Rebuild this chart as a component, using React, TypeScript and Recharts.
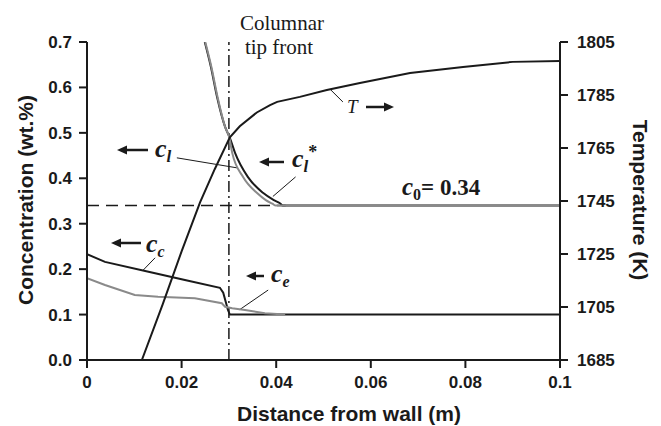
import { ComposedChart, Line, XAxis, YAxis, ReferenceLine } from "recharts";

const xTicks = [0, 0.02, 0.04, 0.06, 0.08, 0.1];
const xTickLabels = ["0", "0.02", "0.04", "0.06", "0.08", "0.1"];
const concTicks = [0, 0.1, 0.2, 0.3, 0.4, 0.5, 0.6, 0.7];
const tempTicks = [1685, 1705, 1725, 1745, 1765, 1785, 1805];
const c0 = 0.34;
const tipFront = 0.03;

// c_l* (dark) liquid concentration at the tip
const clStarX = [0.0249, 0.0262, 0.0275, 0.0292, 0.0302, 0.0313, 0.034, 0.0372, 0.0395, 0.0408, 0.0414, 0.1];
const clStarC = [0.7, 0.645, 0.579, 0.513, 0.489, 0.456, 0.403, 0.368, 0.352, 0.345, 0.34, 0.34];
// c_l (gray)
const clX = [0.025, 0.0263, 0.0276, 0.0292, 0.0301, 0.0307, 0.033, 0.0359, 0.0378, 0.0392, 0.0399, 0.1];
const clC = [0.7, 0.645, 0.579, 0.513, 0.489, 0.456, 0.403, 0.368, 0.352, 0.344, 0.34, 0.34];
// c_c (dark)
const ccX = [0, 0.0038, 0.0123, 0.0207, 0.0281, 0.0288, 0.0298, 0.0302, 0.1];
const ccC = [0.233, 0.216, 0.196, 0.176, 0.159, 0.148, 0.11, 0.1, 0.1];
// c_e (gray)
const ceX = [0, 0.0038, 0.0101, 0.015, 0.0228, 0.0285, 0.0292, 0.0307, 0.0334, 0.0376, 0.0419];
const ceC = [0.18, 0.165, 0.143, 0.139, 0.136, 0.125, 0.117, 0.114, 0.11, 0.103, 0.1];
// temperature
const tX = [0.0116, 0.016, 0.02, 0.0239, 0.027, 0.0302, 0.0323, 0.0359, 0.0387, 0.0402, 0.045, 0.0507, 0.0577, 0.0683, 0.0795, 0.09, 0.1];
const tK = [1685, 1706, 1726, 1744.5, 1757, 1769, 1773.2, 1778.4, 1781.2, 1782.4, 1784.3, 1786.9, 1789.5, 1793.3, 1795.6, 1797.5, 1797.8];

const zip = (xs: number[], ys: number[]) => xs.map((x, i) => ({ x, v: ys[i] }));

const dark = "#1a1a1a";
const gray = "#8a8a8a";
const sans = "'Liberation Sans', Arial, sans-serif";
const serif = "'Liberation Serif', 'Times New Roman', serif";

const tickStyle = { fill: "#1a1a1a", fontSize: 17, fontWeight: 700, fontFamily: sans };

function LeftArrow({ x1, x2, y }: { x1: number; x2: number; y: number }) {
  return (
    <g>
      <line x1={x1} y1={y} x2={x2 + 8} y2={y} stroke={dark} strokeWidth={2.5} />
      <path d={`M${x2},${y} L${x2 + 10},${y - 4.5} L${x2 + 10},${y + 4.5} Z`} fill={dark} />
    </g>
  );
}

function RightArrow({ x1, x2, y }: { x1: number; x2: number; y: number }) {
  return (
    <g>
      <line x1={x1} y1={y} x2={x2 - 8} y2={y} stroke={dark} strokeWidth={2.5} />
      <path d={`M${x2},${y} L${x2 - 10},${y - 4.5} L${x2 - 10},${y + 4.5} Z`} fill={dark} />
    </g>
  );
}

function Annotations() {
  const cStyle = { fontFamily: serif, fontStyle: "italic" as const, fontWeight: 700, fill: dark };
  return (
    <svg width={661} height={426} style={{ position: "absolute", left: 0, top: 0, pointerEvents: "none" }}>
      <text x={282} y={30} textAnchor="middle" fontFamily={serif} fontSize={21} fill={dark}>Columnar</text>
      <text x={279} y={54} textAnchor="middle" fontFamily={serif} fontSize={21} fill={dark}>tip front</text>

      <LeftArrow x1={148} x2={117} y={150} />
      <text x={155} y={157} {...cStyle} fontSize={26}>c<tspan fontSize={17} dy={5}>l</tspan></text>

      <LeftArrow x1={284} x2={259} y={162} />
      <text x={292} y={167} {...cStyle} fontSize={26}>c<tspan fontSize={17} dy={5}>l</tspan><tspan fontSize={18} dy={-14} fontStyle="normal">*</tspan></text>

      <text x={347} y={113} fontFamily={serif} fontStyle="italic" fontSize={19} fill={dark}>T</text>
      <RightArrow x1={366} x2={394} y={107} />

      <text x={402} y={195} {...cStyle} fontSize={25}>c<tspan fontSize={16} dy={5} fontStyle="normal">0</tspan><tspan dy={-5} fontStyle="normal" fontSize={23}>= 0.34</tspan></text>

      <LeftArrow x1={141} x2={111} y={243} />
      <text x={146} y={252} {...cStyle} fontSize={26}>c<tspan fontSize={16} dy={5}>c</tspan></text>

      <LeftArrow x1={264} x2={246} y={276} />
      <text x={271} y={282} {...cStyle} fontSize={26}>c<tspan fontSize={16} dy={5}>e</tspan></text>

      <text x={0} y={0} transform="translate(33,200) rotate(-90)" textAnchor="middle" fontFamily={sans} fontWeight={700} fontSize={21} fill={dark}>Concentration (wt.%)</text>
      <text x={0} y={0} transform="translate(633,200) rotate(90)" textAnchor="middle" fontFamily={sans} fontWeight={700} fontSize={21} fill={dark}>Temperature (K)</text>
      <text x={349} y={421} textAnchor="middle" fontFamily={sans} fontWeight={700} fontSize={21} fill={dark}>Distance from wall (m)</text>
    </svg>
  );
}

export default function App() {
  return (
    <div style={{ position: "absolute", left: 0, top: 0, width: 661, height: 426, background: "#fff" }}>
      <ComposedChart width={661} height={426} margin={{ top: 42, right: 0, bottom: 0, left: 0 }}>
        <XAxis
          type="number"
          dataKey="x"
          domain={[0, 0.1]}
          ticks={xTicks}
          tickFormatter={(v: number) => xTickLabels[xTicks.indexOf(v)] ?? String(v)}
          height={66}
          tickSize={8}
          tickMargin={8}
          tick={tickStyle}
          axisLine={{ stroke: dark, strokeWidth: 2 }}
          tickLine={{ stroke: dark, strokeWidth: 2 }}
          allowDataOverflow
        />
        <YAxis
          yAxisId="left"
          type="number"
          domain={[0, 0.7]}
          ticks={concTicks}
          tickFormatter={(v: number) => v.toFixed(1)}
          width={87}
          tickSize={8}
          tickMargin={7}
          tick={tickStyle}
          axisLine={{ stroke: dark, strokeWidth: 2 }}
          tickLine={{ stroke: dark, strokeWidth: 2 }}
          allowDataOverflow
        />
        <YAxis
          yAxisId="right"
          orientation="right"
          type="number"
          domain={[1685, 1805]}
          ticks={tempTicks}
          width={101}
          tickSize={8}
          tickMargin={9}
          tick={tickStyle}
          axisLine={{ stroke: dark, strokeWidth: 2 }}
          tickLine={{ stroke: dark, strokeWidth: 2 }}
          allowDataOverflow
        />
        <ReferenceLine
          yAxisId="left"
          segment={[{ x: 0, y: c0 }, { x: 0.042, y: c0 }]}
          stroke={dark}
          strokeWidth={1.5}
          strokeDasharray="12 7"
        />
        <ReferenceLine yAxisId="left" x={tipFront} stroke={dark} strokeWidth={1.5} strokeDasharray="11 4 2 4" />
        {/* leader lines */}
        <ReferenceLine yAxisId="left" segment={[{ x: 0.019, y: 0.445 }, { x: 0.0317, y: 0.423 }]} stroke={dark} strokeWidth={1} />
        <ReferenceLine yAxisId="left" segment={[{ x: 0.0441, y: 0.403 }, { x: 0.0393, y: 0.36 }]} stroke={dark} strokeWidth={1} />
        <ReferenceLine yAxisId="left" segment={[{ x: 0.0514, y: 0.596 }, { x: 0.0541, y: 0.568 }]} stroke={dark} strokeWidth={1} />
        <ReferenceLine yAxisId="left" segment={[{ x: 0.0144, y: 0.225 }, { x: 0.0118, y: 0.197 }]} stroke={dark} strokeWidth={1} />
        <ReferenceLine yAxisId="left" segment={[{ x: 0.0383, y: 0.154 }, { x: 0.0323, y: 0.111 }]} stroke={dark} strokeWidth={1} />

        <Line yAxisId="left" data={zip(clStarX, clStarC)} dataKey="v" type="monotone" stroke={dark} strokeWidth={2} dot={false} isAnimationActive={false} />
        <Line yAxisId="left" data={zip(ccX, ccC)} dataKey="v" type="linear" stroke={dark} strokeWidth={2} dot={false} isAnimationActive={false} />
        <Line yAxisId="left" data={zip(clX, clC)} dataKey="v" type="monotone" stroke={gray} strokeWidth={2} dot={false} isAnimationActive={false} />
        <Line yAxisId="left" data={zip(ceX, ceC)} dataKey="v" type="linear" stroke={gray} strokeWidth={2} dot={false} isAnimationActive={false} />
        <Line yAxisId="right" data={zip(tX, tK)} dataKey="v" type="linear" stroke={dark} strokeWidth={2} dot={false} isAnimationActive={false} />
      </ComposedChart>
      <Annotations />
    </div>
  );
}
